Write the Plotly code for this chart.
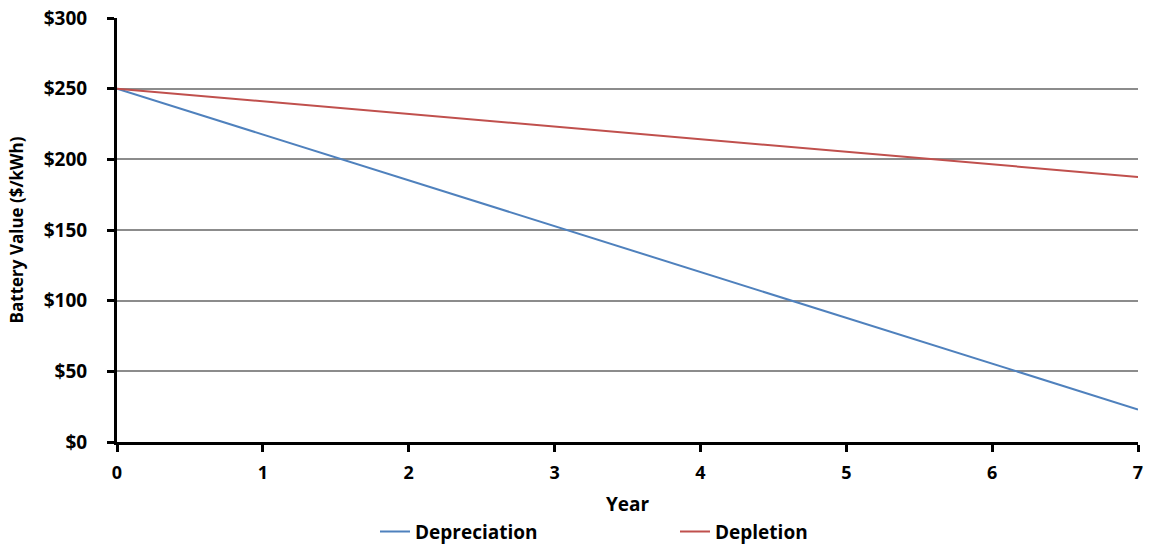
import plotly.graph_objects as go

years = [0, 1, 2, 3, 4, 5, 6, 7]
depreciation = [250, 217.6, 185.1, 152.7, 120.3, 87.9, 55.4, 23.0]
depletion = [250, 241.1, 232.1, 223.2, 214.3, 205.4, 196.4, 187.5]
y_ticks = [0, 50, 100, 150, 200, 250, 300]
y_tick_labels = ["$0", "$50", "$100", "$150", "$200", "$250", "$300"]

font_family = "'Open Sans', Lato, sans-serif"

fig = go.Figure()
fig.add_trace(go.Scatter(x=years, y=depreciation, mode="lines", name="Depreciation",
                         line=dict(color="#4F81BD", width=2)))
fig.add_trace(go.Scatter(x=years, y=depletion, mode="lines", name="Depletion",
                         line=dict(color="#C0504D", width=2)))

fig.update_layout(
    width=1151, height=547,
    margin=dict(l=117, r=13, t=18, b=105, autoexpand=False),
    plot_bgcolor="white", paper_bgcolor="white",
    font=dict(family=font_family, color="black", size=16),
    showlegend=True,
    legend=dict(orientation="h", x=0.2527, xanchor="left", y=-0.2565, yanchor="bottom",
                entrywidth=255, entrywidthmode="pixels",
                font=dict(size=19, family=font_family, weight="bold")),
    xaxis=dict(range=[0, 7], tickmode="array", tickvals=years,
               ticks="outside", ticklen=7, tickwidth=3, tickcolor="black",
               showline=True, linewidth=3, linecolor="black", showgrid=False,
               zeroline=False, ticklabelstandoff=5,
               tickfont=dict(size=18, weight="bold"),
               title=dict(text="Year", font=dict(size=19, weight="bold"), standoff=16)),
    yaxis=dict(range=[0, 300], tickmode="array", tickvals=y_ticks, ticktext=y_tick_labels,
               ticks="outside", ticklen=7, tickwidth=3, tickcolor="black",
               showline=True, linewidth=3, linecolor="black",
               showgrid=True, gridcolor="#8c8c8c", gridwidth=1.5, zeroline=False,
               ticklabelstandoff=16,
               tickfont=dict(size=19, weight="bold"),
               title=dict(text="Battery Value ($/kWh)", font=dict(size=17, weight="bold"),
                          standoff=16)),
)

fig.write_html("out.html")
